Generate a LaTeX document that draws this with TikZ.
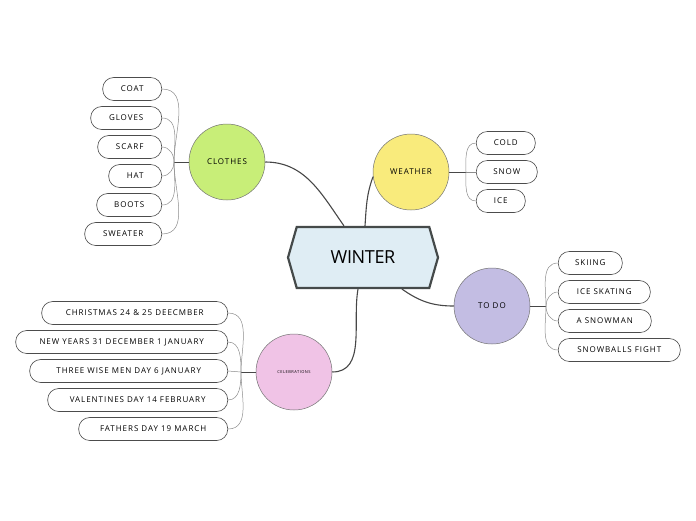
\documentclass[tikz,border=0pt]{standalone}
\usepackage{fontspec}
\setmainfont{Open Sans}
\newfontfamily\handfont[LetterSpace=12]{Open Sans}
\newfontfamily\hubfont[LetterSpace=-2]{Open Sans}
\usepackage{tikz}
\usetikzlibrary{shapes.symbols}
\definecolor{hubfill}{HTML}{DFEDF4}
\definecolor{hubline}{HTML}{454A4A}
\definecolor{clothesfill}{HTML}{C8EE78}
\definecolor{weatherfill}{HTML}{F9EB7C}
\definecolor{todofill}{HTML}{C3BDE3}
\definecolor{celebfill}{HTML}{F0C3E6}

\begin{document}
\begin{tikzpicture}[
    x=1pt, y=-1pt,
    hub/.style={signal, signal to=west and east, signal pointer angle=148, draw=hubline, line width=2.2pt, fill=hubfill, minimum width=150pt, minimum height=61pt, inner sep=0pt, font=\hubfont\fontsize{18}{18}\selectfont},
    topic/.style={circle, draw=black!55, line width=0.5pt, minimum size=76pt, inner sep=0pt, font=\handfont\fontsize{8}{8}\selectfont},
    leaf/.style={rectangle, rounded corners=11pt, draw=black!70, line width=0.6pt, fill=white, minimum height=23pt, inner xsep=2pt, font=\handfont\fontsize{8}{8}\selectfont},
    link/.style={draw=black!72, line width=1.1pt},
    stub/.style={draw=black!72, line width=1pt},
    twig/.style={draw=black!45, line width=0.5pt},
]
\useasboundingbox (0,0) rectangle (696,520);

\node[hub] (winter) at (363,257.5) {WINTER};
\node[topic, fill=clothesfill] (clothes) at (227,162) {CLOTHES};
\node[topic, fill=weatherfill] (weather) at (411,172) {WEATHER};
\node[topic, fill=todofill]    (todo)    at (492,306) {TO DO};
\node[topic, fill=celebfill, font=\handfont\fontsize{4}{4}\selectfont] (celeb) at (294,372) {CELEBRATIONS};

% branch points beside each topic
\coordinate (jclothes) at (174,162);
\coordinate (jweather) at (466,172);
\coordinate (jtodo)    at (546,306);
\coordinate (jceleb)   at (241,372);

% leaves on the left
\foreach \n/\t/\w/\y in {coat/COAT/59/89, gloves/GLOVES/71/118, scarf/SCARF/64/147, hat/HAT/53/176, boots/BOOTS/65/205, sweater/SWEATER/77/234}
  \node[leaf, minimum width=\w pt, anchor=east] (\n) at (162,\y) {\t};
\foreach \n/\t/\w/\y in {xmas/CHRISTMAS 24 \& 25 DEECMBER/186/313, newyear/NEW YEARS 31 DECEMBER 1 JANUARY/212/342, wisemen/THREE WISE MEN DAY 6 JANUARY/198/371, valentine/VALENTINES DAY 14 FEBRUARY/180/400, fathers/FATHERS DAY 19 MARCH/149/429}
  \node[leaf, minimum width=\w pt, anchor=east] (\n) at (228,\y) {\t};

% leaves on the right
\foreach \n/\t/\w/\y in {cold/COLD/59/143, snow/SNOW/61/172, ice/ICE/49/201}
  \node[leaf, minimum width=\w pt, anchor=west] (\n) at (476,\y) {\t};
\foreach \n/\t/\w/\y in {skiing/SKIING/64/263, skating/ICE SKATING/92/292, snowman/A SNOWMAN/93/321, snowballs/SNOWBALLS FIGHT/122/350}
  \node[leaf, minimum width=\w pt, anchor=west] (\n) at (558,\y) {\t};

% main links from the hub
\draw[link] ([xshift=-19pt]winter.north) to[out=125, in=0] (clothes.east);
\draw[link] ([xshift=2pt]winter.north) to[out=86, in=-110] (weather.187);
\draw[link] ([xshift=39pt]winter.south) to[out=-35, in=180] (todo.west);
\draw[link] ([xshift=-5pt]winter.south) to[out=-100, in=0] (celeb.east);

% stubs and twigs
\draw[stub] (clothes.west) -- (jclothes);
\draw[stub] (weather.east) -- (jweather);
\draw[stub] (todo.east) -- (jtodo);
\draw[stub] (celeb.west) -- (jceleb);
\foreach \n/\o in {coat/90, gloves/90, scarf/90, hat/-90, boots/-90, sweater/-90}
  \draw[twig] (jclothes) to[out=\o, in=0] (\n.east);
\foreach \n/\o in {xmas/90, newyear/90, valentine/-90, fathers/-90}
  \draw[twig] (jceleb) to[out=\o, in=0] (\n.east);
\draw[twig] (jceleb) -- (wisemen.east);
\foreach \n/\o in {cold/90, ice/-90}
  \draw[twig] (jweather) to[out=\o, in=180] (\n.west);
\draw[twig] (jweather) -- (snow.west);
\foreach \n/\o in {skiing/90, skating/90, snowman/-90, snowballs/-90}
  \draw[twig] (jtodo) to[out=\o, in=180] (\n.west);
\end{tikzpicture}
\end{document}
